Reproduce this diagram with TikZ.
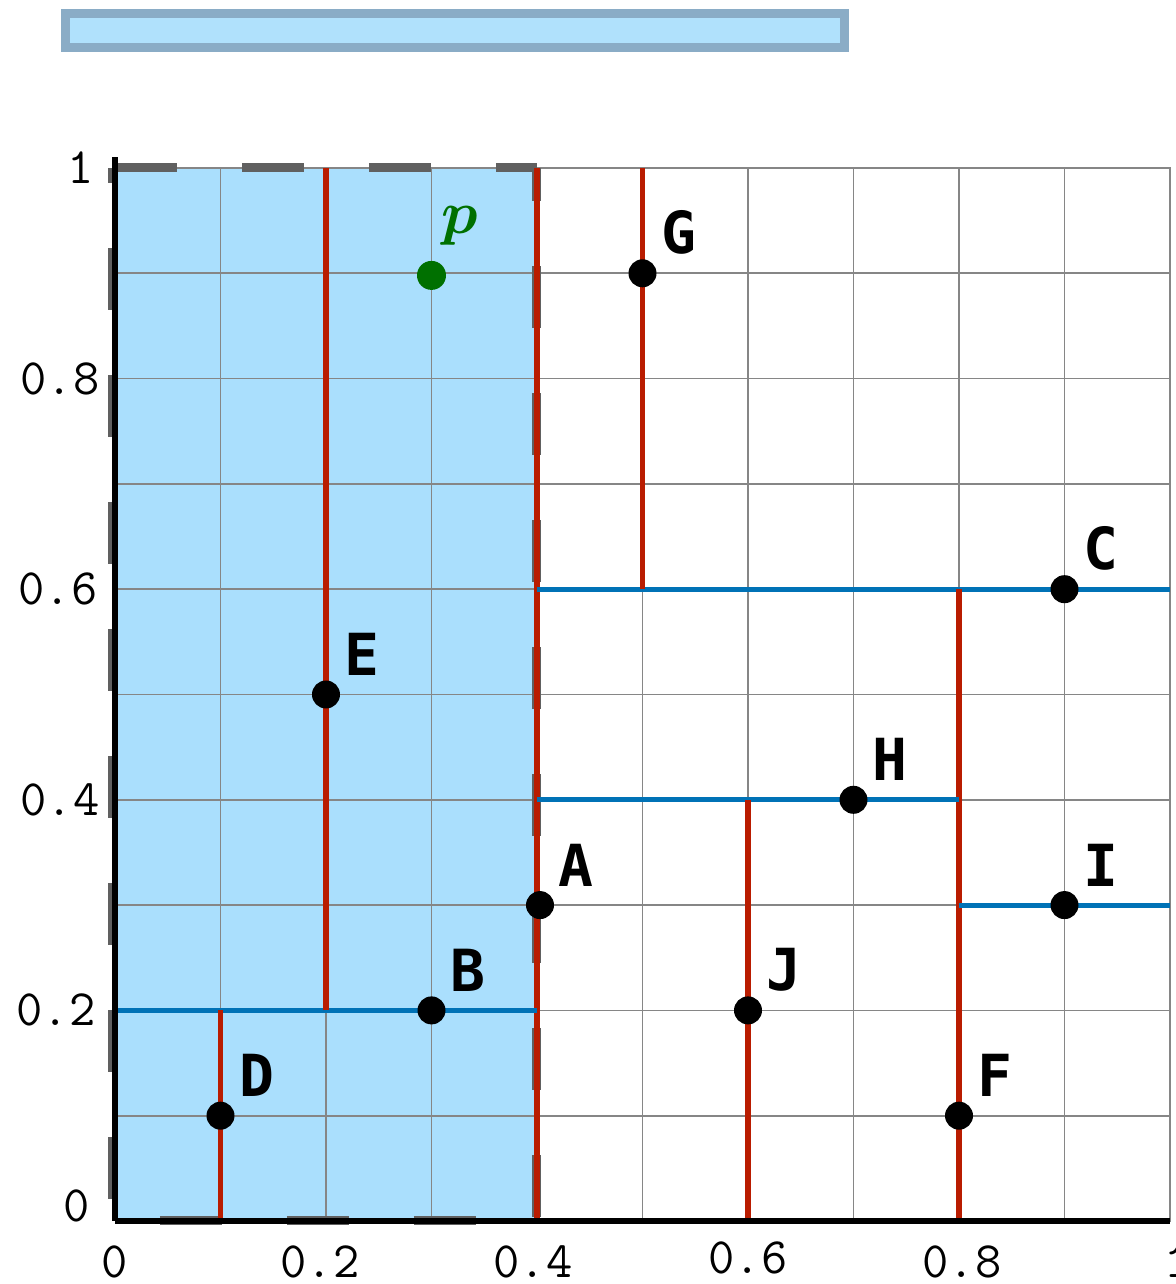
\documentclass[tikz,border=0pt]{standalone}
\usepackage{bm}
\usepackage{fontspec}
\newfontfamily\lblfont{DejaVu Sans Mono}
\definecolor{splitred}{RGB}{185,28,0}
\definecolor{splitblue}{RGB}{0,114,182}
\definecolor{cellblue}{RGB}{170,223,253}
\definecolor{dashgrey}{RGB}{96,96,96}
\definecolor{pgreen}{RGB}{0,112,0}
\definecolor{barblue}{RGB}{176,225,252}
\definecolor{baredge}{RGB}{138,172,198}

\begin{document}
\begin{tikzpicture}[
    x=10.55cm, y=10.53cm,
    label distance=0.11cm,
    gridline/.style={draw=gray!95, line width=0.5pt},
    vsplit/.style={draw=splitred, line width=1.45pt},
    hsplit/.style={draw=splitblue, line width=1.45pt},
    cellborder/.style={draw=dashgrey, line width=0.09cm, dash pattern=on 0.62cm off 0.65cm},
    pt/.style={circle, fill=black, inner sep=0pt, minimum size=0.28cm},
    ptlabel/.style={font=\lblfont\bfseries\fontsize{16.5}{19}\selectfont, inner sep=0pt},
    tick/.style={font=\ttfamily\fontsize{14.5}{17}\selectfont, inner sep=0pt},
    titlebar/.style={draw=baredge, fill=barblue, line width=0.09cm, minimum width=7.78cm, minimum height=0.34cm, inner sep=0pt},
]
    \useasboundingbox (-1.15cm,-0.63cm) rectangle (10.61cm,12.21cm);

    % empty title bar
    \node[titlebar] (title) at (3.40cm,11.90cm) {};

    \coordinate (o) at (0,0);
    \coordinate (tr) at (1,1);
    \coordinate (kA) at (0.4,0.3);
    \coordinate (kB) at (0.3,0.2);
    \coordinate (kC) at (0.9,0.6);
    \coordinate (kD) at (0.1,0.1);
    \coordinate (kE) at (0.2,0.5);
    \coordinate (kF) at (0.8,0.1);
    \coordinate (kG) at (0.5,0.9);
    \coordinate (kH) at (0.7,0.4);
    \coordinate (kI) at (0.9,0.3);
    \coordinate (kJ) at (0.6,0.2);

    % query cell
    \fill[cellblue] (o) rectangle (kA |- tr);
    \draw[gridline] (o) grid[step={(0.1,0.1)}] (1.001,1.001);
    \draw[cellborder, dash phase=0.82cm] (o) -- (kA |- o) -- (kA |- tr);
    \draw[cellborder] (o |- tr) -- (kA |- tr);
    \draw[cellborder, dash phase=0.47cm] ([xshift=-0.02cm]o |- tr) -- ([xshift=-0.02cm]o);

    % splitting lines
    \draw[vsplit] (kA |- o) -- (kA |- tr);
    \draw[hsplit] (o |- kB) -- (kA |- kB);
    \draw[vsplit] (kD |- o) -- (kD |- kB);
    \draw[vsplit] (kE |- kB) -- (kE |- tr);
    \draw[hsplit] (kA |- kC) -- (tr |- kC);
    \draw[vsplit] (kG |- kC) -- (kG |- tr);
    \draw[vsplit] (kF |- o) -- (kF |- kC);
    \draw[hsplit] (kA |- kH) -- (kF |- kH);
    \draw[vsplit] (kJ |- o) -- (kJ |- kH);
    \draw[hsplit] (kF |- kI) -- (tr |- kI);

    % axes
    \draw[line width=1.6pt] (o) -- (0,1.01);
    \draw[line width=1.6pt] (o) -- (1,0);

    % tick labels
    \node[tick, anchor=east] (y0) at ([xshift=-0.25cm,yshift=0.15cm]0,0) {0};
    \node[tick, anchor=east] (y02) at ([xshift=-0.19cm]0,0.2) {0.2};
    \node[tick, anchor=east] (y04) at ([xshift=-0.15cm]0,0.4) {0.4};
    \node[tick, anchor=east] (y06) at ([xshift=-0.17cm]0,0.6) {0.6};
    \node[tick, anchor=east] (y08) at ([xshift=-0.15cm]0,0.8) {0.8};
    \node[tick, anchor=east] (y1) at ([xshift=-0.21cm]0,1) {1};
    \node[tick] (x0) at ([yshift=-0.41cm]0,0) {0};
    \node[tick] (x02) at ([xshift=-0.06cm,yshift=-0.41cm]0.2,0) {0.2};
    \node[tick] (x04) at ([xshift=-0.04cm,yshift=-0.41cm]0.4,0) {0.4};
    \node[tick] (x06) at ([yshift=-0.37cm]0.6,0) {0.6};
    \node[tick] (x08) at ([xshift=0.03cm,yshift=-0.41cm]0.8,0) {0.8};
    \node[tick] (x1) at ([xshift=0.08cm,yshift=-0.41cm]1,0) {1};

    % points
    \node[pt, label={[ptlabel]45:A}] (A) at ([xshift=0.03cm]kA) {};
    \node[pt, label={[ptlabel]45:B}] (B) at (kB) {};
    \node[pt, label={[ptlabel]45:C}] (C) at (kC) {};
    \node[pt, label={[ptlabel]45:D}] (D) at (kD) {};
    \node[pt, label={[ptlabel]45:E}] (E) at (kE) {};
    \node[pt, label={[ptlabel]45:F}] (F) at (kF) {};
    \node[pt, label={[ptlabel]45:G}] (G) at (kG) {};
    \node[pt, label={[ptlabel]45:H}] (H) at (kH) {};
    \node[pt, label={[ptlabel]45:I}] (I) at (kI) {};
    \node[pt, label={[ptlabel]45:J}] (J) at (kJ) {};

    % query point
    \node[pt, fill=pgreen, minimum size=0.29cm] (p) at (0.3,0.898) {};
    \node[text=pgreen, font=\fontsize{19}{22}\selectfont] (plabel) at ([xshift=0.28cm,yshift=0.49cm]p) {$\bm{p}$};
\end{tikzpicture}
\end{document}
